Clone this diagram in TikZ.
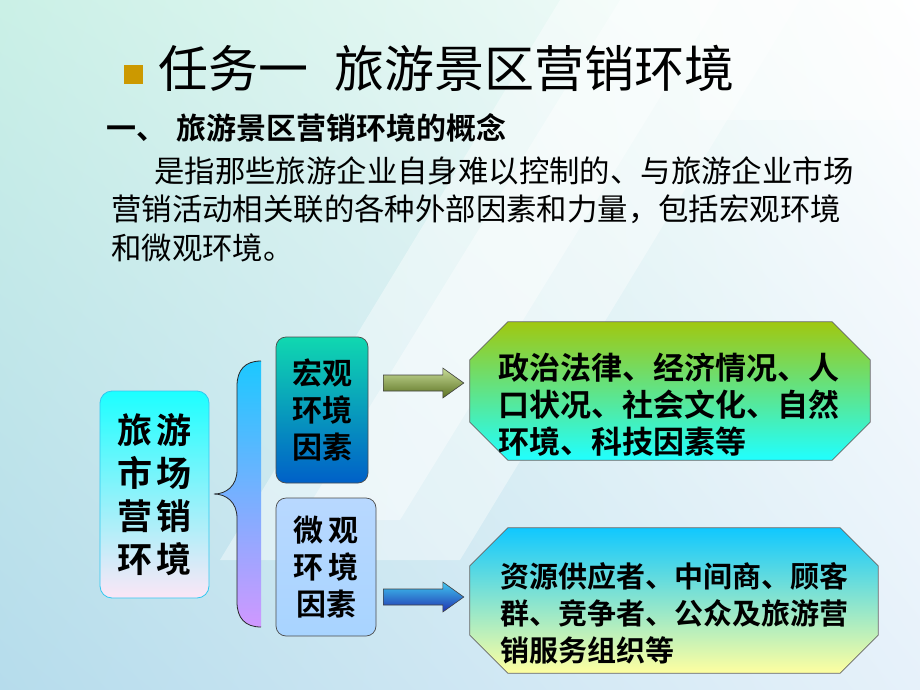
\documentclass[tikz,border=0pt]{standalone}
\usepackage{fontspec}
\setmainfont{Noto Sans CJK SC}[BoldFont={Noto Sans CJK SC Bold}]
\usepackage{xcolor}
\usetikzlibrary{calc,positioning,shadings}

\definecolor{bgmint}{HTML}{CAF0E6}
\definecolor{bgblue}{HTML}{B6DCEC}
\definecolor{bggrey}{HTML}{E6F1FA}
\definecolor{gold}{HTML}{CC9900}
\definecolor{leftcyan}{HTML}{1CFFFF}
\definecolor{leftpink}{HTML}{FCE6F6}
\definecolor{leftrim}{HTML}{30C8F0}
\definecolor{macrotop}{HTML}{10D8B0}
\definecolor{macrobot}{HTML}{0060C8}
\definecolor{microtop}{HTML}{B8D8FF}
\definecolor{micromid}{HTML}{A070FF}
\definecolor{microbot}{HTML}{A8D4FF}
\definecolor{bracetop}{HTML}{1CC8FF}
\definecolor{bracebot}{HTML}{D098FF}
\definecolor{olivetop}{HTML}{C8DC98}
\definecolor{olivebot}{HTML}{5A7020}
\definecolor{bluetop}{HTML}{40C8F0}
\definecolor{bluebot}{HTML}{2030B0}
\definecolor{limetop}{HTML}{A0C810}
\definecolor{cyanbot}{HTML}{20FFFF}
\definecolor{skytop}{HTML}{10C8FF}
\definecolor{paleyel}{HTML}{FFFFA0}

% block arrow between two points
\newcommand\fatarrow[3]{%
\path[#3] let \p1=(#1), \p2=(#2) in
 (\x1,\y1+8pt)--(\x2-21pt,\y1+8pt)--(\x2-21pt,\y1+15pt)--(\x2,\y1)
 --(\x2-21pt,\y1-15pt)--(\x2-21pt,\y1-8pt)--(\x1,\y1-8pt)--cycle;}
% octagon round an (empty) node
\newcommand\octpath[1]{([xshift=38pt]#1.north west)--([xshift=-38pt]#1.north east)
 --([yshift=-38pt]#1.north east)--([yshift=38pt]#1.south east)
 --([xshift=-38pt]#1.south east)--([xshift=38pt]#1.south west)
 --([yshift=38pt]#1.south west)--([yshift=-38pt]#1.north west)--cycle}
\newcommand\chamfer[3]{%
\begin{scope}
\clip \octpath{#1};
\shade[top color=#2,bottom color=#3] (#1.north west) rectangle (#1.south east);
\end{scope}
\draw[infobox] \octpath{#1};}

\begin{document}
\begin{tikzpicture}[x=1pt,y=-1pt,inner sep=0pt]
\tikzset{factor/.style={rounded corners=10pt,draw=black!70,line width=.7pt,
  align=center,font=\fontsize{30}{37}\selectfont\bfseries},
 infobox/.style={draw=black!60,line width=.7pt},
 infotext/.style={align=left,font=\fontsize{#1}{37}\selectfont\bfseries},
 fat/.style={draw=black!75,line width=.6pt}}
\useasboundingbox (0,0) rectangle (920,690);
% background
\shade[upper left=bgmint,lower left=bgblue,upper right=white,lower right=bggrey]
 (0,0) rectangle (920,690);
\fill[white,opacity=.4] (560,0)--(800,0)--(460,560)--(220,560)--cycle;
\fill[white,opacity=.4] (620,0)--(720,0)--(400,520)--(300,520)--cycle;
\fill[white,opacity=.4] (700,0) rectangle (920,120);
% heading
\node[fill=gold,minimum size=19pt] (dot) at (133.5,74.5) {};
\node[anchor=west,font=\fontsize{50}{50}\selectfont] (title) at (158,68)
 {任务一\hspace{26pt}旅游景区营销环境};
\node[anchor=west,font=\fontsize{30}{30}\selectfont\bfseries] (sub) at (106,128)
 {一、\hspace{10pt}旅游景区营销环境的概念};
\node[anchor=west,align=left,font=\fontsize{30.4}{38.5}\selectfont] (para) at (111,209)
 {\hspace*{43pt}是指那些旅游企业自身难以控制的、与旅游企业市场\\
 营销活动相关联的各种外部因素和力量，包括宏观环境\\
 和微观环境。};
% tree
\node[rounded corners=12pt,draw=leftrim,line width=.8pt,top color=leftcyan,
 bottom color=leftpink,minimum width=109pt,minimum height=207pt,align=center,
 font=\fontsize{35}{43}\selectfont\bfseries] (market) at (154.5,494.5)
 {旅\hspace{5pt}游\\市\hspace{5pt}场\\营\hspace{5pt}销\\环\hspace{5pt}境};
\def\bracepath{(261,361) .. controls (245,361) and (237,370) .. (237,386)
 -- (237,470) .. controls (237,486) and (226,494) .. (214,494)
 .. controls (226,494) and (237,502) .. (237,518)
 -- (237,602) .. controls (237,618) and (245,627) .. (261,627)}
\shade[top color=bracetop,bottom color=bracebot] \bracepath -- cycle;
\draw[black!85,line width=.8pt] \bracepath;
\node[factor,top color=macrotop,bottom color=macrobot,minimum width=92pt,
 minimum height=146pt] (macro) at (322,410) {宏观\\环境\\因素};
\node[factor,top color=microtop,middle color=micromid,bottom color=microbot,
 minimum width=100pt,minimum height=138pt] (micro) at (326,567)
 {微\,观\\环\,境\\因素};
\node[minimum width=400pt,minimum height=138pt] (mainfo) at (670,391) {};
\chamfer{mainfo}{limetop}{cyanbot}
\node[infotext=31,text width=344pt] (matext) at ($(mainfo.center)+(0,14)$)
 {政治法律、经济情况、人\\口状况、社会文化、自然\\环境、科技因素等};
\node[minimum width=408pt,minimum height=145pt] (miinfo) at (674,600.5) {};
\chamfer{miinfo}{skytop}{paleyel}
\node[infotext=29,text width=348pt] (mitext) at ($(miinfo.center)+(0,12.5)$)
 {资源供应者、中间商、顾客\\群、竞争者、公众及旅游营\\销服务组织等};
% arrows
\fatarrow{$(macro.east |- mainfo.west)+(15,-8)$}{$(mainfo.west)+(-6,-8)$}
 {fat,top color=olivetop,bottom color=olivebot}
\fatarrow{$(micro.east |- miinfo.west)+(7,-3.5)$}{$(miinfo.west)+(-6,-3.5)$}
 {fat,top color=bluetop,bottom color=bluebot}
\end{tikzpicture}
\end{document}
